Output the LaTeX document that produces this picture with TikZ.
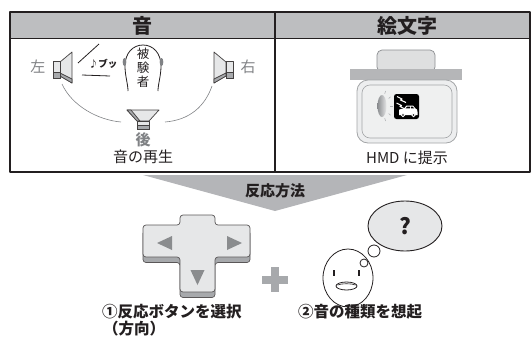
\documentclass[tikz,border=0pt]{standalone}
\usepackage{fontspec}
\setmainfont{Noto Sans CJK JP}
\usetikzlibrary{calc}

\definecolor{ink}{HTML}{231F20}
\definecolor{hdr}{HTML}{BDBEC0}
\definecolor{softgray}{HTML}{808285}
\definecolor{lightfill}{HTML}{E6E7E8}
\definecolor{darkband}{HTML}{A7A9AC}
\definecolor{funnel}{HTML}{B4B5B8}
\definecolor{frame}{HTML}{8C8E91}
\definecolor{screen}{HTML}{EFF0F0}
\definecolor{barfill}{HTML}{B5B6B8}
\definecolor{tri}{HTML}{8A8C8E}
\definecolor{plusgray}{HTML}{A7A9AC}

\tikzset{
  headtxt/.style={font=\fontsize{20}{20}\selectfont\bfseries, inner sep=0pt, text=ink},
  bodytxt/.style={font=\fontsize{15}{15}\selectfont, inner sep=0pt, text=ink},
  sidetxt/.style={font=\fontsize{15}{15}\selectfont, inner sep=0pt, text=softgray},
  subjtxt/.style={font=\fontsize{12.5}{12.5}\selectfont, inner sep=0pt, text=ink},
  notetxt/.style={font=\fontsize{9.5}{9.5}\selectfont\bfseries, inner sep=0pt, text=ink},
  labtxt/.style={font=\fontsize{15.5}{15.5}\selectfont\bfseries, inner sep=0pt, text=ink},
  spk/.style={draw=ink!85, fill=lightfill, line width=0.7pt},
  spkdark/.style={draw=ink!85, fill=darkband, line width=0.7pt},
  arcline/.style={draw=softgray, line width=0.6pt},
  thin/.style={draw=ink, line width=0.8pt},
  dpadface/.style={draw=ink!75, fill=lightfill, line width=0.7pt, rounded corners=3pt},
  dpadband/.style={draw=ink!75, fill=darkband, line width=0.7pt, rounded corners=3pt},
}

\begin{document}
\begin{tikzpicture}[x=1pt,y=-1pt, line join=round]
\useasboundingbox (0,0) rectangle (531,341);

% ---------- table ----------
\fill[hdr] (10,12) rectangle (530,38);
\draw[ink, line width=1.5pt] (10,12) rectangle (530,172);
\draw[ink, line width=1pt] (10,38) -- (530,38);
\draw[ink, line width=1.5pt] (275,12) -- (275,172);
\node[headtxt] (hsound) at (142,26) {音};
\node[headtxt] (hemoji) at (407,26) {絵文字};

% ---------- sound cell ----------
% left speaker
\filldraw[spk] (60,62) -- (72,52) -- (72,83) -- (60,76) -- cycle;
\filldraw[spkdark] (60,73) -- (72,79) -- (72,83) -- (60,76) -- cycle;
\filldraw[spk] (53,61) rectangle (60,78);
\filldraw[spkdark] (53,72) rectangle (60,78);
% right speaker
\filldraw[spk] (226,62) -- (214,52) -- (214,83) -- (226,76) -- cycle;
\filldraw[spkdark] (226,73) -- (214,79) -- (214,83) -- (226,76) -- cycle;
\filldraw[spk] (226,61) rectangle (233,78);
\filldraw[spkdark] (226,72) rectangle (233,78);
% rear speaker
\filldraw[spk] (127,110) -- (159,110) -- (149,121) -- (137,121) -- cycle;
\filldraw[spkdark] (127,110) -- (131,110) -- (140,121) -- (137,121) -- cycle;
\filldraw[spk] (137,121) rectangle (149,129);
\filldraw[spkdark] (137,125) rectangle (149,129);

\node[sidetxt] (tleft) at (38,67) {左};
\node[sidetxt] (tright) at (248,67) {右};
\node[sidetxt, font=\fontsize{15}{15}\selectfont\bfseries] (trear) at (143,140) {後};
\node[bodytxt] (tplay) at (143,157) {音の再生};

% sound burst
\node[notetxt] (snd) at (103,64) {♪ブッ};
\coordinate (w1a) at (78,63);  \coordinate (w1b) at (99,44);
\coordinate (w2a) at (82,75);  \coordinate (w2b) at (110,76);
\draw[thin] (w1a) -- (w1b);
\draw[thin] (w2a) -- (w2b);

% listener
\draw[thin] (128,91) .. controls (128,84) and (125,76) .. (125,66)
  .. controls (125,53) and (133,45) .. (143,45)
  .. controls (153,45) and (161,53) .. (161,66)
  .. controls (161,76) and (158,84) .. (158,91);
\fill[softgray] (124.5,62) ellipse (1.8 and 4);
\fill[softgray] (161.5,62) ellipse (1.8 and 4);
\node[subjtxt] (s1) at (143,54) {被};
\node[subjtxt] (s2) at (143,68) {験};
\node[subjtxt] (s3) at (143,82) {者};

% arcs joining the speakers
\coordinate (la) at (62,84);   \coordinate (lb) at (121,122);
\coordinate (ra) at (165,122); \coordinate (rb) at (212,86);
\draw[arcline] (la) .. controls (72,106) and (98,120) .. (lb);
\draw[arcline] (ra) .. controls (190,120) and (205,106) .. (rb);

% ---------- emoji cell ----------
\filldraw[draw=frame, fill=lightfill!80!hdr, rounded corners=5pt, line width=0.7pt] (377,50) rectangle (435,72);
\fill[barfill] (350,69) rectangle (462,80);
\filldraw[draw=frame!80, fill=lightfill!70!white, rounded corners=11pt, line width=0.8pt] (357,80) rectangle (457,143);
\filldraw[draw=frame!80, fill=screen, rounded corners=8pt, line width=0.6pt] (362,85) rectangle (452,138);
% lamp and rays
\shade[left color=frame, right color=lightfill] (382,106) ellipse (4.5 and 11);
\foreach \a in {-70,-35,0,35,70}
  \draw[frame!70, line width=0.5pt] ($(382,106)+(\a:8 and 13)$) -- ($(382,106)+(\a:10.5 and 16)$);
% icon
\fill[black, rounded corners=2.5pt] (394,94) rectangle (419,119);
\draw[white, line width=1.1pt] (397,96.5) -- (402,99) -- (400.5,100) -- (406,102.5);
\draw[white, line width=1.1pt] (396.5,103) -- (401.5,105.5) -- (400,106.5) -- (404,108.5);
\fill[white] (399,115) -- (399,111) .. controls (399,109.5) .. (401,109) -- (404,108.5)
  -- (406.5,105.5) -- (413,105.5) -- (415.5,108.5) -- (417,109.5) -- (417.5,112) -- (417.5,115) -- cycle;
\fill[black] (407.3,106.6) -- (410,106.6) -- (410,108.4) -- (405.6,108.4) -- cycle;
\fill[black] (411,106.6) -- (412.6,106.6) -- (414.2,108.4) -- (411,108.4) -- cycle;
\filldraw[fill=black, draw=white, line width=0.8pt] (403,115) circle (1.8);
\filldraw[fill=black, draw=white, line width=0.8pt] (413.5,115) circle (1.8);
\node[bodytxt] (thmd) at (407,158) {HMD に提示};

% ---------- response method ----------
\fill[funnel] (143,175) -- (407,175) -- (275,211) -- cycle;
\node[labtxt, font=\fontsize{15}{15}\selectfont\bfseries] (tmethod) at (275,191) {反応方法};

% direction pad
\begin{scope}[yshift=-5.5pt]
\filldraw[dpadband] (143,225) -- (180,225) -- (180,215) -- (215,215) -- (215,225) -- (250,225)
  -- (250,257) -- (215,257) -- (215,292) -- (180,292) -- (180,257) -- (143,257) -- cycle;
\end{scope}
\filldraw[dpadface] (143,225) -- (180,225) -- (180,215) -- (215,215) -- (215,225) -- (250,225)
  -- (250,257) -- (215,257) -- (215,292) -- (180,292) -- (180,257) -- (143,257) -- cycle;
\fill[tri] (157,243) -- (172,236) -- (172,250) -- cycle;
\fill[tri] (242,243) -- (227,236) -- (227,250) -- cycle;
\fill[tri] (197.5,285) -- (190.5,270) -- (204.5,270) -- cycle;

% plus sign
\fill[plusgray] (271,267) rectangle (279,292);
\fill[plusgray] (262,275.5) rectangle (288,283.5);

% thinking face
\draw[thin] (348,278) ellipse (25 and 29);
\draw[ink, line width=1.3pt] (334,270) -- (334,276);
\draw[ink, line width=1.3pt] (359,270) -- (359,276);
\draw[thin] (346.5,286) ellipse (10.5 and 4);
\draw[ink, line width=0.6pt] (337.5,285) .. controls (342,283.3) and (351,283.3) .. (355.5,285);
\filldraw[thin, fill=white] (364,263) circle (4);
\filldraw[thin, fill=white] (374,251) circle (6);
\filldraw[draw=ink, fill=lightfill, line width=0.9pt] (405,226) ellipse (37 and 25);
\node[font=\fontsize{22}{22}\selectfont\bfseries, inner sep=0pt, text=ink] (q) at (405,226) {?};

% captions
\node[labtxt, anchor=west] (cap1) at (102,312) {①反応ボタンを選択};
\node[labtxt, anchor=west] (cap1b) at (103,329) {（方向）};
\node[labtxt] (cap2) at (360,312) {②音の種類を想起};
\end{tikzpicture}
\end{document}
